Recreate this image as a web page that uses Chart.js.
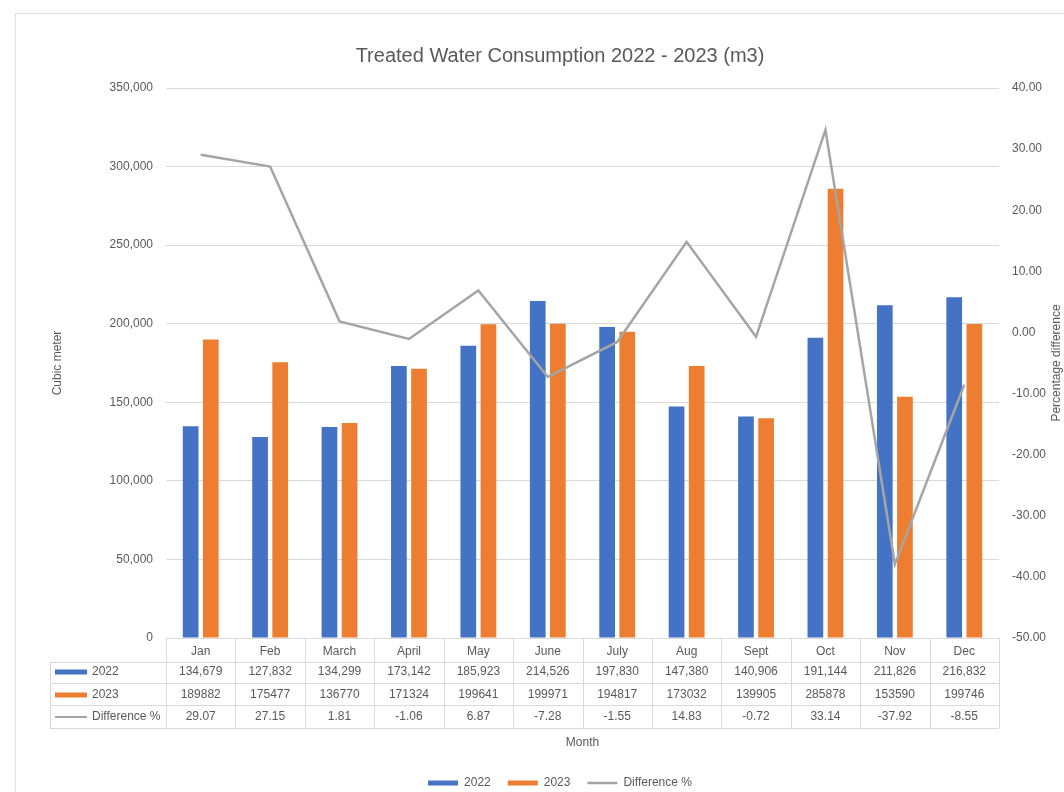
<!DOCTYPE html>
<html>
<head>
<meta charset="utf-8">
<script src="https://cdn.jsdelivr.net/npm/chart.js@4.4.1/dist/chart.umd.min.js"></script>
<style>
  html, body { margin: 0; padding: 0; background: #ffffff; }
  #wrap { position: relative; width: 1064px; height: 792px; overflow: hidden; }
  #card { position: absolute; left: 15px; top: 13px; width: 1100px; height: 820px;
          border: 1px solid #e4e4e4; box-shadow: 0 0 3px rgba(0,0,0,0.05); background: #fff; }
  canvas { position: absolute; left: 0; top: 0; }
</style>
</head>
<body>
<div id="wrap">
  <div id="card"></div>
  <canvas id="c" width="1064" height="792" style="width:1064px;height:792px"></canvas>
</div>
<script>
// ---- Data ----
const months = ['Jan', 'Feb', 'March', 'April', 'May', 'June', 'July', 'Aug', 'Sept', 'Oct', 'Nov', 'Dec'];
const water2022 = [134679, 127832, 134299, 173142, 185923, 214526, 197830, 147380, 140906, 191144, 211826, 216832];
const water2023 = [189882, 175477, 136770, 171324, 199641, 199971, 194817, 173032, 139905, 285878, 153590, 199746];
const diffPct = [29.07, 27.15, 1.81, -1.06, 6.87, -7.28, -1.55, 14.83, -0.72, 33.14, -37.92, -8.55];
const seriesNames = ['2022', '2023', 'Difference %'];
const leftAxisRange = [0, 350000, 50000];
const rightAxisRange = [-50, 40, 10];

const chartTitle = 'Treated Water Consumption 2022 - 2023 (m3)';
const leftTitle = 'Cubic meter';
const rightTitle = 'Percentage difference';
const xTitle = 'Month';

const BLUE = '#4472C4', ORANGE = '#ED7D31', GRAY = '#A5A5A5', TXT = '#595959', GRID = '#d9d9d9';
const FONT = "'Liberation Sans', Arial, sans-serif";

// Data table drawn beneath the category axis, using the x scale positions
const tablePlugin = {
  id: 'dataTable',
  afterLayout(chart) {
    // title and legend in the reference are centred slightly right of the canvas centre
    if (chart.legend) { chart.legend.left += 56; }
    if (chart.titleBlock) { chart.titleBlock.left += 56; }
  },
  afterDraw(chart) {
    const { ctx, chartArea } = chart;
    const x = chart.scales.x;
    const b = chartArea.bottom;
    const n = months.length;
    const w = (x.right - x.left) / n;
    const tableLeft = 50;
    const lines = [b + 24, b + 45, b + 67, b + 90];
    ctx.save();
    ctx.strokeStyle = GRID;
    ctx.lineWidth = 1;
    lines.forEach(y => {
      ctx.beginPath();
      ctx.moveTo(tableLeft, Math.round(y) + 0.5);
      ctx.lineTo(x.right, Math.round(y) + 0.5);
      ctx.stroke();
    });
    for (let k = 0; k <= n; k++) {
      const xx = Math.round(x.left + k * w) + 0.5;
      ctx.beginPath();
      ctx.moveTo(xx, b);
      ctx.lineTo(xx, lines[3]);
      ctx.stroke();
    }
    ctx.beginPath();
    ctx.moveTo(tableLeft + 0.5, lines[0]);
    ctx.lineTo(tableLeft + 0.5, lines[3]);
    ctx.stroke();

    const rowY = [b + 34, b + 57, b + 79];
    ctx.fillStyle = BLUE;
    ctx.fillRect(55, rowY[0] - 2.5, 32, 5);
    ctx.fillStyle = ORANGE;
    ctx.fillRect(55, rowY[1] - 2.5, 32, 5);
    ctx.strokeStyle = GRAY;
    ctx.lineWidth = 2;
    ctx.beginPath();
    ctx.moveTo(55, rowY[2]);
    ctx.lineTo(87, rowY[2]);
    ctx.stroke();

    ctx.font = '12px ' + FONT;
    ctx.fillStyle = TXT;
    ctx.textBaseline = 'middle';
    ctx.textAlign = 'left';
    seriesNames.forEach((s, i) => ctx.fillText(s, 92, rowY[i]));

    ctx.textAlign = 'center';
    for (let i = 0; i < n; i++) {
      const cx = x.getPixelForValue(i);
      ctx.fillText(water2022[i].toLocaleString('en-US'), cx, rowY[0]);
      ctx.fillText(String(water2023[i]), cx, rowY[1]);
      ctx.fillText(diffPct[i].toFixed(2), cx, rowY[2]);
    }

    const ca = chartArea;
    ctx.save();
    ctx.translate(1057, (ca.top + ca.bottom) / 2);
    ctx.rotate(-Math.PI / 2);
    ctx.textAlign = 'center';
    ctx.fillText(rightTitle, 0, 0);
    ctx.restore();
    ctx.restore();
  }
};

new Chart(document.getElementById('c'), {
  data: {
    labels: months,
    datasets: [
      { type: 'bar', label: seriesNames[0], data: water2022, backgroundColor: BLUE, yAxisID: 'y',
        categoryPercentage: 0.58, barPercentage: 0.78, pointStyle: 'rect', order: 1 },
      { type: 'bar', label: seriesNames[1], data: water2023, backgroundColor: ORANGE, yAxisID: 'y',
        categoryPercentage: 0.58, barPercentage: 0.78, pointStyle: 'rect', order: 1 },
      { type: 'line', label: seriesNames[2], data: diffPct, borderColor: GRAY, backgroundColor: GRAY,
        borderWidth: 2.5, pointRadius: 0, pointStyle: 'line', tension: 0, yAxisID: 'y1', order: 0 }
    ]
  },
  options: {
    responsive: false,
    animation: false,
    layout: { padding: { top: 0, left: 0, right: 0, bottom: 2 } },
    plugins: {
      title: {
        display: true, text: chartTitle, color: TXT,
        font: { family: FONT, size: 20, weight: 'normal' },
        padding: { top: 44, bottom: 20 }
      },
      legend: {
        position: 'bottom',
        maxHeight: 30,
        labels: {
          usePointStyle: true, pointStyleWidth: 30, boxHeight: 5, padding: 17,
          color: TXT, font: { family: FONT, size: 12 },
          sort: (a, b) => a.datasetIndex - b.datasetIndex
        }
      },
      tooltip: { enabled: false }
    },
    scales: {
      x: {
        grid: { display: false, drawTicks: false },
        border: { display: true, color: GRID },
        ticks: { color: TXT, font: { family: FONT, size: 12 }, padding: 6, maxRotation: 0, autoSkip: false },
        title: { display: true, text: xTitle, color: TXT, font: { family: FONT, size: 12 }, padding: { top: 0, bottom: 10 } },
        afterFit: s => { s.height = 122; }
      },
      y: {
        position: 'left',
        min: leftAxisRange[0], max: leftAxisRange[1],
        grid: { color: GRID, drawTicks: false },
        border: { display: false },
        ticks: { stepSize: leftAxisRange[2], color: TXT, padding: 13, font: { family: FONT, size: 12 },
                 callback: v => Number(v).toLocaleString('en-US') },
        title: { display: true, text: leftTitle, color: TXT, font: { family: FONT, size: 12 }, padding: { top: 50, bottom: 0 } },
        afterFit: s => { s.width = 166; }
      },
      y1: {
        position: 'right',
        min: rightAxisRange[0], max: rightAxisRange[1],
        grid: { display: false, drawTicks: false },
        border: { display: false },
        ticks: { stepSize: rightAxisRange[2], color: TXT, padding: 13, font: { family: FONT, size: 12 },
                 callback: v => Number(v).toFixed(2) },
        afterFit: s => { s.width = 65; }
      }
    }
  },
  plugins: [tablePlugin]
});
</script>
</body>
</html>
